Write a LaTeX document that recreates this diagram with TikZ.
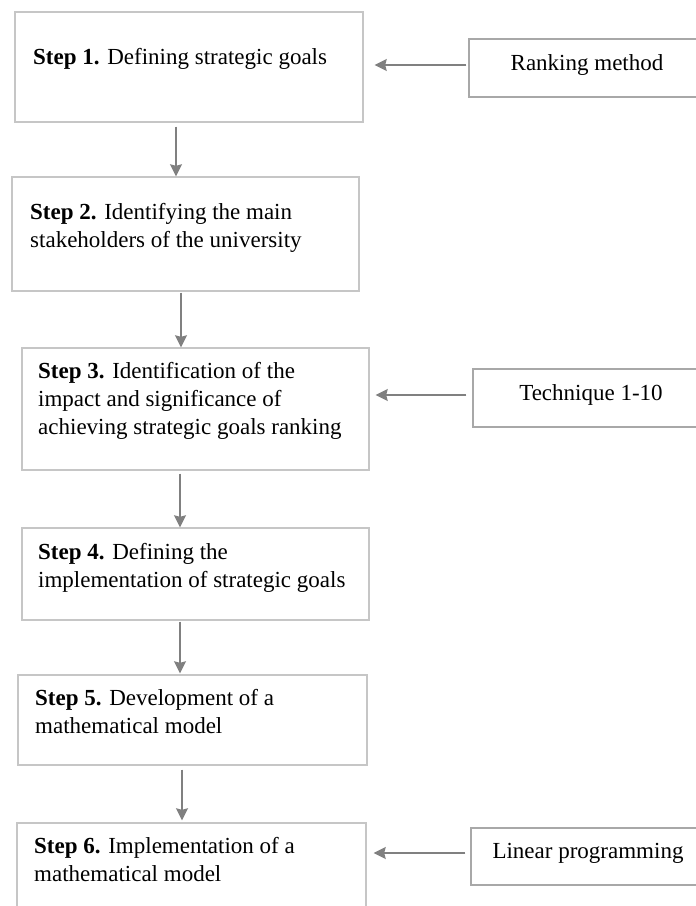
\documentclass[tikz,border=0pt]{standalone}
\usepackage{fontspec}
\setmainfont{Liberation Serif}
\usetikzlibrary{arrows.meta}
\definecolor{boxgray}{RGB}{198,198,198}
\definecolor{sidegray}{RGB}{168,168,168}
\definecolor{arrgray}{RGB}{128,128,128}
\begin{document}
\begin{tikzpicture}[x=1pt,y=1pt,
  box/.style={draw=boxgray,line width=1.4pt,inner sep=0pt,fill=none},
  sidebox/.style={draw=sidegray,line width=1.4pt,inner sep=0pt,font=\fontsize{23}{28}\selectfont,text height=14pt,text depth=10pt},
  txt/.style={inner sep=0pt,font=\fontsize{23}{28}\selectfont,align=left,anchor=base west},
  arr/.style={draw=arrgray,line width=1.6pt,-{Stealth[length=12pt,width=12pt,inset=1.5pt]}}]
\useasboundingbox (0,0) rectangle (696,-906);
\clip (0,0) rectangle (696,-906);
\fill[white] (0,0) rectangle (696,-906);
% step boxes
\node[box,minimum width=348pt,minimum height=110pt] (b1) at (189,-67) {};
\node[box,minimum width=347pt,minimum height=114pt] (b2) at (185.5,-234) {};
\node[box,minimum width=347pt,minimum height=122pt] (b3) at (195.5,-409) {};
\node[box,minimum width=347pt,minimum height=92pt] (b4) at (195.5,-574) {};
\node[box,minimum width=349pt,minimum height=90pt] (b5) at (192.5,-720) {};
\node[box,minimum width=349pt,minimum height=137pt] (b6) at (191.5,-891.5) {};
% texts (anchor = baseline of the last line)
\node[txt] (t1) at (33,-64) {\textbf{Step 1.} Defining strategic goals};
\node[txt] (t2) at (30,-247) {\textbf{Step 2.} Identifying the main\\stakeholders of the university};
\node[txt] (t3) at (38,-434) {\textbf{Step 3.} Identification of the\\impact and significance of\\achieving strategic goals ranking};
\node[txt] (t4) at (38,-587) {\textbf{Step 4.} Defining the\\implementation of strategic goals};
\node[txt] (t5) at (35,-733) {\textbf{Step 5.} Development of a\\mathematical model};
\node[txt] (t6) at (34,-881) {\textbf{Step 6.} Implementation of a\\mathematical model};
% side boxes
\node[sidebox,minimum width=236pt,minimum height=58pt] (rk) at (587,-68) {Ranking method};
\node[sidebox,minimum width=236pt,minimum height=58pt] (tq) at (591,-398) {Technique 1-10};
\node[sidebox,minimum width=234pt,minimum height=57pt] (lp) at (588,-856.5) {Linear programming};
% vertical arrows
\draw[arr] ([xshift=-13pt,yshift=-4pt]b1.south) -- ([xshift=-9.5pt]b2.north);
\draw[arr] ([xshift=-4.5pt,yshift=-1pt]b2.south) -- ([xshift=-14.5pt]b3.north);
\draw[arr] ([xshift=-15.5pt,yshift=-3pt]b3.south) -- ([xshift=-15.5pt]b4.north);
\draw[arr] ([xshift=-15.5pt,yshift=-1pt]b4.south) -- ([xshift=-12.5pt,yshift=1pt]b5.north);
\draw[arr] ([xshift=-10.5pt,yshift=-4pt]b5.south) -- ([xshift=-9.5pt,yshift=2pt]b6.north);
% horizontal arrows
\draw[arr] ([xshift=-2pt,yshift=3pt]rk.west) -- ([xshift=11pt,yshift=2pt]b1.east);
\draw[arr] ([xshift=-6pt,yshift=3pt]tq.west) -- ([xshift=6pt,yshift=14pt]b3.east);
\draw[arr] ([xshift=-5pt,yshift=3.5pt]lp.west) -- ([xshift=7pt,yshift=38.5pt]b6.east);
\end{tikzpicture}
\end{document}
